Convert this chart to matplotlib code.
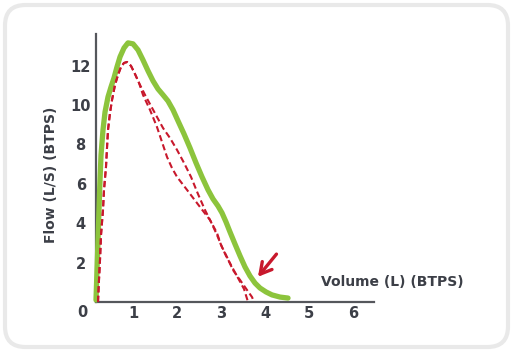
import matplotlib
matplotlib.use("Agg")
import matplotlib.pyplot as plt
from matplotlib.patches import FancyBboxPatch

# Data (volume L, flow L/s)
green_vol = [0.159, 0.182, 0.205, 0.227, 0.25, 0.273, 0.318, 0.364, 0.432, 0.5, 0.568, 0.636,
             0.705, 0.795, 0.886,
             1.0, 1.114, 1.227, 1.341, 1.455, 1.568, 1.682, 1.795, 1.909, 2.023, 2.159, 2.295,
             2.432, 2.568, 2.705, 2.818, 2.932, 3.023, 3.114, 3.205, 3.318, 3.432, 3.545, 3.659,
             3.773, 3.886, 4.023, 4.159, 4.341, 4.523]
green_flow = [0.10, 1.62, 3.15, 4.67, 6.19, 7.46, 8.73, 9.64, 10.41, 10.91, 11.37, 11.93,
              12.44, 12.89, 13.15,
              13.10, 12.79, 12.28, 11.73, 11.22, 10.81, 10.51, 10.20, 9.75, 9.19, 8.53, 7.82,
              7.06, 6.35, 5.69, 5.23, 4.87, 4.52, 4.06, 3.55, 2.94, 2.34, 1.78, 1.32,
              0.96, 0.71, 0.51, 0.36, 0.25, 0.20]

rise_vol = [0.205, 0.227, 0.25, 0.273, 0.318, 0.341, 0.386, 0.409, 0.432, 0.477, 0.523, 0.591,
            0.659, 0.727, 0.795, 0.864, 0.955, 1.045, 1.136]
rise_flow = [0.0, 1.12, 2.13, 3.40, 4.67, 5.69, 6.85, 7.82, 8.73, 9.59, 10.25, 11.02,
             11.52, 11.93, 12.13, 12.18, 11.98, 11.57, 11.12]

outer_vol = [1.273, 1.409, 1.545, 1.682, 1.841, 2.0, 2.159, 2.318, 2.477, 2.636, 2.773, 2.909,
             3.023, 3.136, 3.273, 3.432, 3.591, 3.705, 3.75]
outer_flow = [10.51, 9.95, 9.39, 8.83, 8.32, 7.72, 7.06, 6.35, 5.48, 4.67, 4.06, 3.40,
              2.79, 2.28, 1.62, 1.12, 0.61, 0.25, 0.0]

inner_vol = [1.227, 1.386, 1.545, 1.659, 1.773, 1.886, 2.0, 2.227, 2.523, 2.75, 2.909, 3.0,
             3.114, 3.25, 3.386, 3.523, 3.614]
inner_flow = [10.51, 9.75, 8.88, 8.12, 7.36, 6.80, 6.35, 5.69, 4.82, 4.16, 3.50, 2.89,
              2.34, 1.78, 1.22, 0.66, 0.0]

x_ticks = [1, 2, 3, 4, 5, 6]
y_ticks = [2, 4, 6, 8, 10, 12]

GREEN = "#8cc43c"
RED = "#c8182c"
TEXT = "#3c3f47"
AXIS = "#55575c"

fig = plt.figure(figsize=(5.12, 3.52), dpi=100)
fig.patch.set_facecolor("white")

frame = FancyBboxPatch((5 / 512, 5 / 352), 503 / 512, 342 / 352,
                       boxstyle="round,pad=0,rounding_size=0.04",
                       transform=fig.transFigure, facecolor="none",
                       edgecolor="#e9e9e9", lw=3, mutation_aspect=512 / 352,
                       zorder=-10)
fig.patches.append(frame)

ax = fig.add_axes([96 / 512, 1 - 302 / 352, (374 - 96) / 512, (302 - 34) / 352])
ax.set_facecolor("none")
ax.set_xlim(0.159, 6.477)
ax.set_ylim(0, 13.6)

for s in ["top", "right"]:
    ax.spines[s].set_visible(False)
for s in ["left", "bottom"]:
    ax.spines[s].set_color(AXIS)
    ax.spines[s].set_linewidth(1.6)

ax.set_xticks(x_ticks)
ax.set_yticks(y_ticks)
ax.tick_params(length=0, labelsize=10.5, labelcolor=TEXT)
ax.tick_params(axis="x", pad=3)
ax.tick_params(axis="y", pad=11)
for lab in ax.get_yticklabels():
    lab.set_fontweight("bold")
    lab.set_horizontalalignment("center")
for lab in ax.get_xticklabels():
    lab.set_fontweight("bold")

ax.text(-0.14, -0.55, "0", ha="center", va="center", fontsize=10.5,
        fontweight="bold", color=TEXT, clip_on=False)

ax.plot(green_vol, green_flow, color=GREEN, lw=3.8, solid_capstyle="round",
        solid_joinstyle="round", clip_on=False, zorder=3)

dash = (3, 1.6)
ax.plot(rise_vol + outer_vol, rise_flow + outer_flow, color=RED, lw=1.5,
        dashes=dash, clip_on=False, zorder=4)
ax.plot(rise_vol + inner_vol, rise_flow + inner_flow, color=RED, lw=1.5,
        dashes=dash, clip_on=False, zorder=4)

ax.annotate("", xy=(3.80, 1.17), xytext=(4.30, 2.54),
            arrowprops=dict(arrowstyle="->,head_length=0.8,head_width=0.45",
                            color=RED, lw=2.4))

ax.text(5.27, 1.0, "Volume (L) (BTPS)", ha="left", va="center", fontsize=10,
        fontweight="bold", color=TEXT)
fig.text(51 / 512, 1 - 175 / 352, "Flow (L/S) (BTPS)", rotation=90, ha="center",
         va="center", fontsize=10, fontweight="bold", color=TEXT)

fig.savefig("out.png", dpi=100)
